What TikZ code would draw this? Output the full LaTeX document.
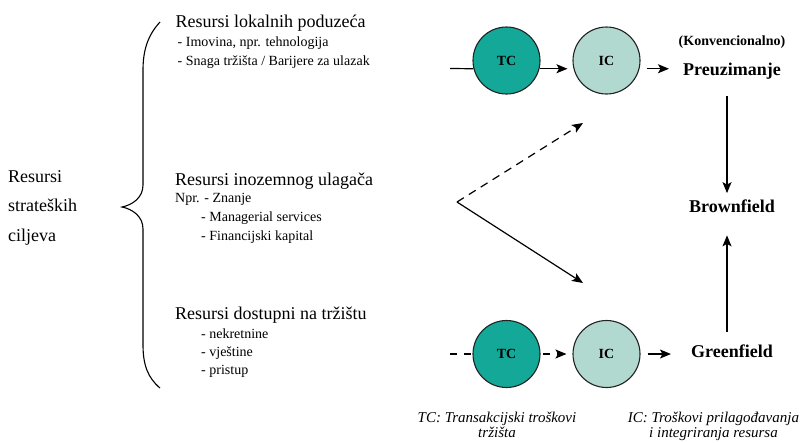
\documentclass[tikz,border=0pt]{standalone}
\usepackage{fontspec}
\setmainfont{Liberation Serif}
\usetikzlibrary{arrows.meta}
\definecolor{tcfill}{HTML}{14A898}
\definecolor{icfill}{HTML}{B1D9CF}
\definecolor{edge}{HTML}{222222}
\begin{document}
\begin{tikzpicture}[x=1pt,y=-1pt,
  big/.style={font=\fontsize{18}{18}\selectfont, inner sep=0pt, anchor=base west},
  item/.style={font=\fontsize{14}{18.5}\selectfont, inner sep=0pt, anchor=base west, align=left},
  bold/.style={font=\fontsize{18}{18}\selectfont\bfseries, inner sep=0pt, anchor=base},
  costc/.style={circle, draw=edge, line width=1.1pt, minimum size=67pt, inner sep=0pt, font=\fontsize{14}{14}\selectfont\bfseries},
  tcc/.style={costc, fill=tcfill},
  icc/.style={costc, fill=icfill},
  conn/.style={line width=1.2pt},
  arr/.style={conn, -{Stealth[length=11pt,width=9pt,inset=2.5pt]}},
  dsh/.style={dash pattern=on 7pt off 7pt},
  captext/.style={font=\fontsize{15}{15}\selectfont\itshape, inner sep=0pt, align=center, anchor=base}
]
\useasboundingbox (0,0) rectangle (805,442);

% left label (base = last line)
\node[font=\fontsize{18}{29.5}\selectfont, inner sep=0pt, anchor=base west, align=left] (goal) at (8,241) {Resursi\\strateških\\ciljeva};

% brace
\draw[line width=1.1pt] (160,22) .. controls (148,35) and (143,50) .. (143,70) -- (143,185)
  .. controls (143,198) and (132,205) .. (122,207)
  .. controls (132,209) and (143,216) .. (143,229) -- (143,345)
  .. controls (143,365) and (148,378) .. (160,388);

% resource groups
\node[big] (loc) at (175.5,27) {Resursi lokalnih poduzeća};
\node[item] (locitems) at (177.5,65) {- Imovina, npr. tehnologija\\- Snaga tržišta / Barijere za ulazak};

\node[big] (ino) at (175,185) {Resursi inozemnog ulagača};
\node[item] (npr) at (175,202.5) {Npr. - Znanje};
\node[item, font=\fontsize{14}{19}\selectfont] (inoitems) at (201,240.5) {- Managerial services\\- Financijski kapital};

\node[big] (dos) at (175,319) {Resursi dostupni na tržištu};
\node[item, font=\fontsize{14}{18}\selectfont] (dositems) at (201,374) {- nekretnine\\- vještine\\- pristup};

% circles
\node[tcc] (tc1) at (506.5,60.5) {TC};
\node[icc] (ic1) at (606.5,60.5) {IC};
\node[tcc] (tc2) at (506.5,354) {TC};
\node[icc] (ic2) at (606.5,354) {IC};

% outcomes
\node[font=\fontsize{14}{14}\selectfont\bfseries, inner sep=0pt, anchor=base] (konv) at (732,45) {(Konvencionalno)};
\node[bold] (pre) at (732,75) {Preuzimanje};
\node[bold] (brown) at (732,212) {Brownfield};
\node[bold] (green) at (732,357) {Greenfield};

% captions (base = last line)
\node[captext] (captc) at (497,437) {TC: Transakcijski troškovi\\tržišta};
\node[captext] (capic) at (713.5,437) {IC: Troškovi prilagođavanja\\i integriranja resursa};

% connectors top row
\coordinate (in1) at (450,68.5);
\draw[conn] (in1) -- (tc1.194);
\draw[arr, shorten >=6pt] (tc1.-14) -- (ic1.194);
\draw[arr, shorten <=7pt, shorten >=14pt] (ic1.-14) -- (ic1.-14 -| pre.west);

% connectors bottom row
\coordinate (in2) at (450,354);
\draw[conn, dsh] (in2) -- (tc2.west);
\draw[arr, dsh, shorten <=2pt, shorten >=6pt] (tc2.east) -- (ic2.west);
\draw[arr, shorten <=7pt, shorten >=20pt] (ic2.east) -- (green.west |- ic2.east);

% fork
\coordinate (fork) at (457,202);
\coordinate (upend) at (583,123);
\coordinate (downend) at (583,283);
\draw[arr, dash pattern=on 8pt off 6pt] (fork) -- (upend);
\draw[arr] (fork) -- (downend);

% vertical arrows
\draw[arr, shorten <=17pt, shorten >=6pt] ([xshift=-5pt]pre.south) -- ([xshift=-5pt]brown.north);
\draw[arr, shorten <=12pt, shorten >=23pt] ([xshift=-5pt]green.north) -- ([xshift=-5pt]brown.south);
\end{tikzpicture}
\end{document}
